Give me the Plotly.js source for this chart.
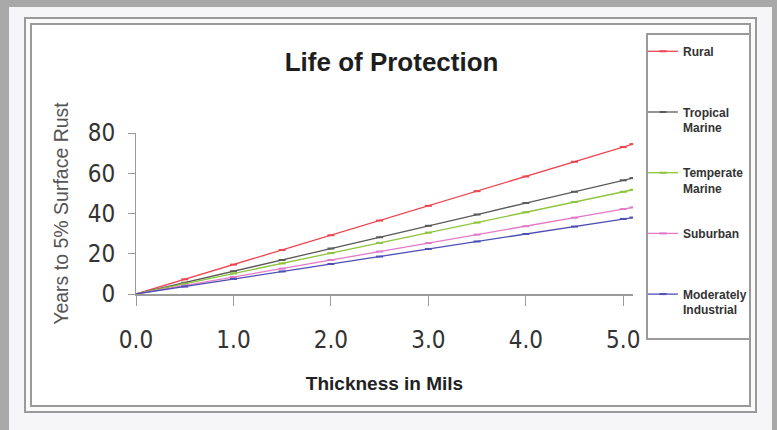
<!DOCTYPE html>
<html>
<head>
<meta charset="utf-8">
<script src="https://cdn.plot.ly/plotly-3.0.1.min.js"></script>
<style>
  html, body { margin: 0; padding: 0; }
  body { width: 777px; height: 430px; position: relative; overflow: hidden; background: #f6f6f8; }
  #gray { position: absolute; left: 0; top: 0; width: 777px; height: 430px; box-sizing: border-box;
          border-left: 9px solid #a8a8a8; border-top: 7px solid #a8a8a8; border-right: 5px solid #a8a8a8; }
  #outer { position: absolute; left: 24px; top: 17px; width: 733px; height: 396px; box-sizing: border-box;
           border: 2px solid #9a9a9a; background: #fafafa; }
  #inner { position: absolute; left: 30px; top: 23px; width: 721px; height: 384px; box-sizing: border-box;
           border: 2px solid #9a9a9a; background: #ffffff; }
  #legendbox { position: absolute; left: 646px; top: 33px; width: 105px; height: 307px; box-sizing: border-box;
           border: 2px solid #9a9a9a; background: #ffffff; }
  #chart { position: absolute; left: 0; top: 0; width: 777px; height: 430px; }
</style>
</head>
<body>
<div id="gray"></div>
<div id="outer"></div>
<div id="inner"></div>
<div id="legendbox"></div>
<div id="chart"></div>
<script>
// Thickness in mils
const thickness = [0, 0.5, 1.0, 1.5, 2.0, 2.5, 3.0, 3.5, 4.0, 4.5, 5.0, 5.1];
// Years to 5% surface rust
const rural      = [0, 7.3, 14.6, 21.9, 29.2, 36.5, 43.8, 51.1, 58.4, 65.7, 73.0, 74.5];
const tropical   = [0, 5.6, 11.3, 16.9, 22.6, 28.2, 33.9, 39.5, 45.2, 50.8, 56.5, 57.6];
const temperate  = [0, 5.1, 10.2, 15.2, 20.3, 25.4, 30.5, 35.5, 40.6, 45.7, 50.8, 51.8];
const suburban   = [0, 4.2, 8.4, 12.6, 16.9, 21.1, 25.3, 29.5, 33.7, 37.9, 42.2, 43.0];
const industrial = [0, 3.7, 7.5, 11.2, 14.9, 18.6, 22.4, 26.1, 29.8, 33.5, 37.3, 38.0];

const seriesNames = ["Rural<br>\u00a0", "Tropical<br>Marine", "Temperate<br>Marine", "Suburban<br>\u00a0", "Moderately<br>Industrial"];
const seriesValues = [rural, tropical, temperate, suburban, industrial];
const seriesColors = ["#ee4552", "#5a5a5a", "#8cc43c", "#e27ac8", "#4d4fb5"];

const xTickVals = [0, 1, 2, 3, 4, 5];
const xTickText = ["0.0", "1.0", "2.0", "3.0", "4.0", "5.0"];
const yTickVals = [0, 20, 40, 60, 80];

const COND = "'DejaVu Sans Condensed', 'DejaVu Sans', sans-serif";
const SANS = "'Liberation Sans', Arial, sans-serif";

const traces = seriesNames.map((n, i) => ({
  x: thickness,
  y: seriesValues[i],
  name: n,
  legendgroup: "g" + i,
  type: "scatter",
  mode: "lines+markers",
  line: { color: seriesColors[i], width: 1.3 },
  marker: { symbol: "line-ew", size: 5, line: { color: seriesColors[i], width: 2 } },
  hoverinfo: "skip"
}));

const layout = {
  width: 777, height: 430,
  paper_bgcolor: "rgba(0,0,0,0)",
  plot_bgcolor: "rgba(0,0,0,0)",
  margin: { l: 136, r: 144.3, t: 133, b: 135.5 },
  title: {
    text: "Life of Protection",
    font: { family: SANS, size: 26, color: "#1e1e1e", weight: "bold" },
    xref: "container", x: 0.504, xanchor: "center",
    yref: "container", y: 1 - 62 / 430, yanchor: "middle"
  },
  xaxis: {
    range: [0, 5.1],
    tickvals: xTickVals, ticktext: xTickText,
    showgrid: false, zeroline: false,
    showline: true, linecolor: "#9a9a9a", linewidth: 1.5,
    ticks: "outside", ticklen: 10, tickcolor: "#9a9a9a", tickwidth: 1,
    ticklabelstandoff: 14,
    tickfont: { family: COND, size: 24, color: "#333333", stretch: "condensed" },
    title: { text: "Thickness in Mils", font: { family: SANS, size: 19, color: "#222222", weight: "bold" }, standoff: 23 },
    fixedrange: true
  },
  yaxis: {
    range: [0, 80],
    tickvals: yTickVals,
    showgrid: false, zeroline: false,
    showline: true, linecolor: "#9a9a9a", linewidth: 1,
    ticks: "outside", ticklen: 7, tickcolor: "#9a9a9a", tickwidth: 1,
    ticklabelstandoff: 8,
    tickfont: { family: COND, size: 24, color: "#333333", stretch: "condensed" },
    title: { text: "Years to 5% Surface Rust", font: { family: SANS, size: 19.5, color: "#555555" }, standoff: 13 },
    fixedrange: true
  },
  legend: {
    xref: "container", yref: "container",
    x: 643 / 777, xanchor: "left",
    y: 1 - 37 / 430, yanchor: "top",
    bgcolor: "rgba(0,0,0,0)", borderwidth: 0,
    font: { family: SANS, size: 12, color: "#333333", weight: "bold" },
    traceorder: "grouped", tracegroupgap: 26.5, valign: "top",
    itemwidth: 30, maxheight: 400
  },
  showlegend: true
};

Plotly.newPlot("chart", traces, layout, { displayModeBar: false, staticPlot: true });
</script>
</body>
</html>
